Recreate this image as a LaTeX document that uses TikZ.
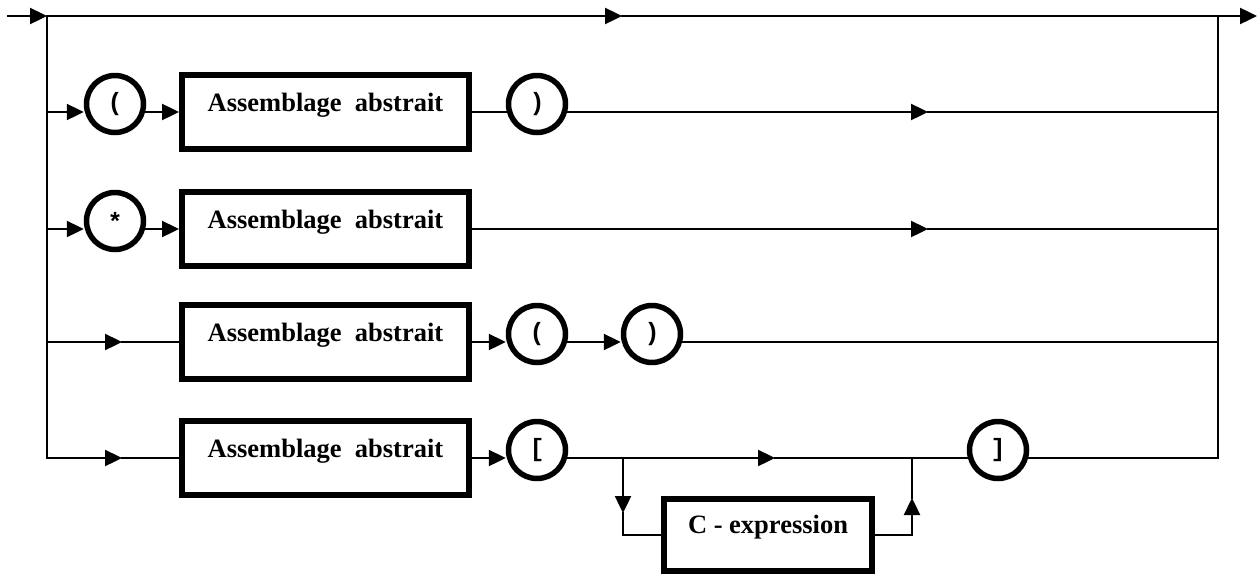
\documentclass[tikz,border=0pt]{standalone}
\usepackage{fontspec}
\setmainfont{Liberation Serif}
\newfontfamily\monofnt{Liberation Mono}
\usetikzlibrary{arrows.meta,calc}
\begin{document}
\begin{tikzpicture}[x=1pt,y=-1pt,
 flow/.style={line width=2.4pt,line cap=rect},
 arr/.style={flow,-{Triangle[length=17pt,width=16pt]}},
 term/.style={circle,draw,line width=5.5pt,minimum size=57pt,inner sep=0pt,font=\fontsize{25}{28}\selectfont\monofnt\bfseries},
 nt/.style={draw,line width=6pt,minimum width=287pt,minimum height=74pt,inner sep=0pt},
 txt/.style={font=\fontsize{26.5}{30}\selectfont\bfseries,inner sep=0pt}]
\useasboundingbox (0,0) rectangle (1259,579);
% coordinates
\coordinate (S) at (8,16);
\coordinate (T0) at (47,16);
\coordinate (m0) at (622,16);
\coordinate (TR) at (1218,16);
\coordinate (E) at (1257,16);
\coordinate (L1) at (47,112);  \coordinate (R1) at (1218,112); \coordinate (m1) at (928,112);
\coordinate (L2) at (47,229);  \coordinate (R2) at (1218,229); \coordinate (m2) at (928,229);
\coordinate (L3) at (47,342);  \coordinate (R3) at (1218,342); \coordinate (m3) at (122,342);
\coordinate (L4) at (47,458);  \coordinate (R4) at (1218,458); \coordinate (m4) at (122,458);
\coordinate (J1) at (623,458); \coordinate (m5) at (775,458); \coordinate (J2) at (912,458);
\coordinate (m6) at (623,513); \coordinate (m7) at (912,498);
% nodes
\node[term] (o1) at (115,104) {(};
\node[nt] (b1) at (325.5,112) {};
\node[term] (c1) at (537,104) {)};
\node[term] (o2) at (115,221) {*};
\node[nt] (b2) at (325.5,229) {};
\node[nt] (b3) at (325.5,342) {};
\node[term] (o3) at (537,334) {(};
\node[term] (c3) at (652,334) {)};
\node[nt] (b4) at (325.5,458) {};
\node[term] (o4) at (537,450) {[};
\node[nt,minimum width=208pt,minimum height=72pt] (ce) at (768,535) {};
\node[term] (c4) at (998,450) {]};
\node[txt] (t1) at ($(b1.center)+(0,-7)$) {Assemblage\ \ abstrait};
\node[txt] (t2) at ($(b2.center)+(0,-7)$) {Assemblage\ \ abstrait};
\node[txt] (t3) at ($(b3.center)+(0,-7)$) {Assemblage\ \ abstrait};
\node[txt] (t4) at ($(b4.center)+(0,-7)$) {Assemblage\ \ abstrait};
\node[txt] (t5) at ($(ce.center)+(0,-8)$) {C - expression};
% top line and rails
\draw[arr] (S) -- (T0);
\draw[arr] (T0) -- (m0);
\draw[flow] (m0) -- (TR);
\draw[arr] (TR) -- (E);
\draw[flow] (T0) -- (L4);
\draw[flow] (TR) -- (R4);
% row 1
\draw[arr] (L1) -- (o1.west |- L1);
\draw[arr] (o1.east |- L1) -- (b1.west);
\draw[flow] (b1.east) -- (c1.west |- L1);
\draw[arr] (c1.east |- L1) -- (m1);
\draw[flow] (m1) -- (R1);
% row 2
\draw[arr] (L2) -- (o2.west |- L2);
\draw[arr] (o2.east |- L2) -- (b2.west);
\draw[arr] (b2.east) -- (m2);
\draw[flow] (m2) -- (R2);
% row 3
\draw[arr] (L3) -- (m3);
\draw[flow] (m3) -- (b3.west);
\draw[arr] (b3.east) -- (o3.west |- L3);
\draw[arr] (o3.east |- L3) -- (c3.west |- L3);
\draw[flow] (c3.east |- L3) -- (R3);
% row 4
\draw[arr] (L4) -- (m4);
\draw[flow] (m4) -- (b4.west);
\draw[arr] (b4.east) -- (o4.west |- L4);
\draw[flow] (o4.east |- L4) -- (J1);
\draw[arr] (J1) -- (m5);
\draw[flow] (m5) -- (J2);
\draw[flow] (J2) -- (c4.west |- L4);
\draw[flow] (c4.east |- L4) -- (R4);
\draw[arr] (J1) -- (m6);
\draw[flow] (m6) |- (ce.west);
\draw[arr] (ce.east) -| (m7);
\draw[flow] (m7) -- (J2);
\end{tikzpicture}
\end{document}
